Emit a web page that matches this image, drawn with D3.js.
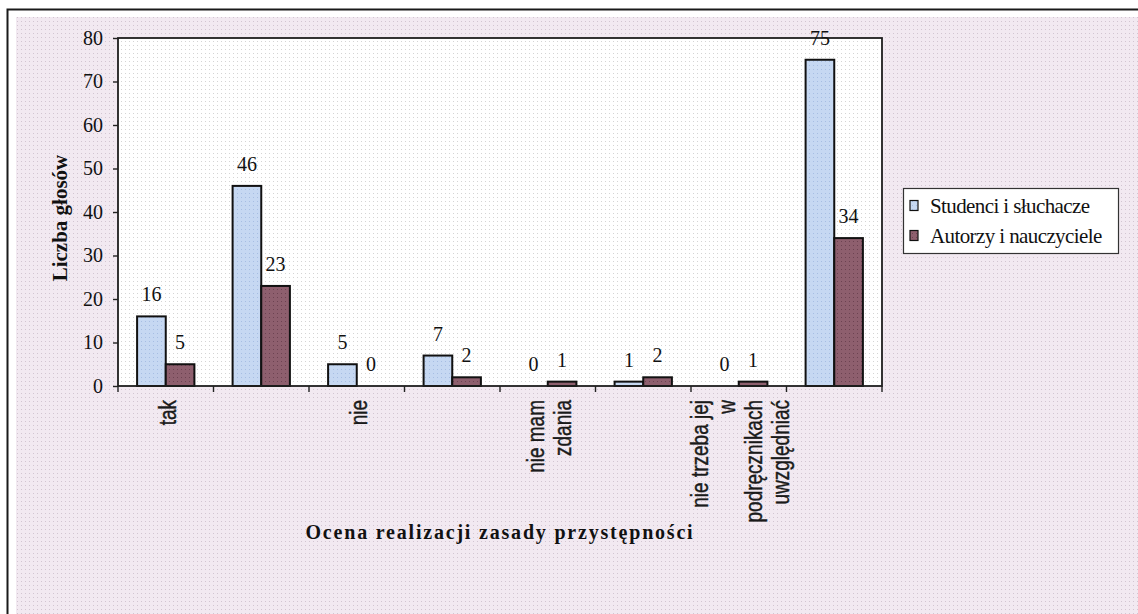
<!DOCTYPE html>
<html>
<head>
<meta charset="utf-8">
<script src="https://cdn.jsdelivr.net/npm/d3@7"></script>
<style>
  html, body { margin: 0; padding: 0; background: #ffffff; }
  svg { display: block; }
</style>
</head>
<body>
<svg id="chart" width="1138" height="614"></svg>
<script>
// ---- data ----
const categoryLabels = [
  ["tak"],
  [],
  ["nie"],
  [],
  ["nie mam", "zdania"],
  [],
  ["nie trzeba jej", "w", "podręcznikach", "uwzględniać"],
  []
];
const seriesNames = ["Studenci i słuchacze", "Autorzy i nauczyciele"];
const studenciValues = [16, 46, 5, 7, 0, 1, 0, 75];
const autorzyValues = [5, 23, 0, 2, 1, 2, 1, 34];
const yTickValues = [0, 10, 20, 30, 40, 50, 60, 70, 80];
const yTitle = "Liczba głosów";
const xTitle = "Ocena realizacji zasady przystępności";

// ---- layout ----
const W = 1138, H = 614;
const plot = { left: 118, top: 38, right: 882, bottom: 386 };
const colors = ["#c6d8f2", "#8e5f6e"];
const dotColors = ["#a6bde2", "#6c4251"];
const serif = "'Liberation Serif', 'Times New Roman', serif";

const svg = d3.select("#chart");
const defs = svg.append("defs");

function dotPattern(id, base, dot) {
  const p = defs.append("pattern").attr("id", id)
    .attr("width", 4).attr("height", 4).attr("patternUnits", "userSpaceOnUse");
  p.append("rect").attr("width", 4).attr("height", 4).attr("fill", base);
  p.append("rect").attr("x", 1).attr("y", 1).attr("width", 1).attr("height", 1).attr("fill", dot);
}
dotPattern("bgDots", "#f2e9f1", "#d2c5d1");
dotPattern("plotDots", "#ffffff", "#d4d4d4");
dotPattern("bar0", colors[0], dotColors[0]);
dotPattern("bar1", colors[1], dotColors[1]);

// background
svg.append("rect").attr("width", W).attr("height", H).attr("fill", "#ffffff");
svg.append("rect").attr("x", 16).attr("y", 17).attr("width", W).attr("height", H)
  .attr("fill", "url(#bgDots)");
svg.append("rect").attr("x", 7.5).attr("y", 9.5).attr("width", W + 20).attr("height", H + 20)
  .attr("fill", "none").attr("stroke", "#1a1a1a").attr("stroke-width", 2);

// scales
const idx = d3.range(studenciValues.length);
const x = d3.scaleBand().domain(idx).range([plot.left, plot.right]).paddingInner(0).paddingOuter(0);
const bw = x.bandwidth();
const xSub = d3.scaleBand().domain([0, 1]).range([0.2 * bw, 0.8 * bw]).padding(0);
const y = d3.scaleLinear().domain([0, 80]).range([plot.bottom, plot.top]);

// plot area
svg.append("rect").attr("x", plot.left).attr("y", plot.top)
  .attr("width", plot.right - plot.left).attr("height", plot.bottom - plot.top)
  .attr("fill", "url(#plotDots)");

// bars
const series = [studenciValues, autorzyValues];
series.forEach((vals, s) => {
  svg.append("g").selectAll("rect").data(vals).join("rect")
    .attr("x", (d, i) => x(i) + xSub(s))
    .attr("y", d => y(d))
    .attr("width", xSub.bandwidth())
    .attr("height", d => y(0) - y(d))
    .attr("fill", `url(#bar${s})`)
    .attr("stroke", "#111")
    .attr("stroke-width", 2);
});

// plot frame
svg.append("rect").attr("x", plot.left).attr("y", plot.top)
  .attr("width", plot.right - plot.left).attr("height", plot.bottom - plot.top)
  .attr("fill", "none").attr("stroke", "#1e1e1e").attr("stroke-width", 1.8);

// y axis
const yAxis = svg.append("g").attr("transform", `translate(${plot.left},0)`)
  .call(d3.axisLeft(y).tickValues(yTickValues).tickSize(5).tickPadding(10));
yAxis.select(".domain").remove();
yAxis.selectAll("line").attr("stroke", "#222").attr("stroke-width", 1.4);
yAxis.selectAll("text")
  .attr("font-family", serif)
  .attr("font-size", 20).attr("fill", "#111");

// x ticks at band boundaries
const boundaries = idx.map(i => x(i)).concat([plot.right]);
svg.append("g").selectAll("line").data(boundaries).join("line")
  .attr("x1", d => d).attr("x2", d => d)
  .attr("y1", plot.bottom).attr("y2", plot.bottom + 6)
  .attr("stroke", "#222").attr("stroke-width", 1.4);

// x category labels (rotated)
const lineGap = 27;
const labG = svg.append("g");
categoryLabels.forEach((lines, i) => {
  if (!lines.length) return;
  const cx = x(i) + bw / 2;
  const n = lines.length;
  lines.forEach((ln, k) => {
    const bx = cx - (n - 1) / 2 * lineGap + k * lineGap + 10;
    labG.append("text")
      .attr("transform", `translate(${bx},${plot.bottom + 14}) rotate(-90) scale(1,1.25)`)
      .attr("text-anchor", "end")
      .attr("font-family", "'Liberation Sans', Arial, sans-serif")
      .attr("font-size", 19)
      .attr("fill", "#1a1a1a")
      .attr("stroke", "#1a1a1a").attr("stroke-width", 0.35)
      .text(ln);
  });
});

// value labels
series.forEach((vals, s) => {
  svg.append("g").selectAll("text").data(vals).join("text")
    .attr("x", (d, i) => x(i) + xSub(s) + xSub.bandwidth() / 2)
    .attr("y", d => y(d) - 15)
    .attr("text-anchor", "middle")
    .attr("font-family", serif)
    .attr("font-size", 20)
    .attr("fill", "#111")
    .text(d => d);
});

// axis titles
svg.append("text")
  .attr("transform", `translate(67,${(plot.top + plot.bottom) / 2 + 6}) rotate(-90)`)
  .attr("text-anchor", "middle")
  .attr("font-family", serif)
  .attr("font-weight", "bold").attr("font-size", 21).attr("fill", "#111")
  .text(yTitle);

svg.append("text")
  .attr("x", (plot.left + plot.right) / 2).attr("y", 539)
  .attr("text-anchor", "middle")
  .attr("font-family", serif)
  .attr("font-weight", "bold").attr("font-size", 20).attr("letter-spacing", 1.8)
  .attr("fill", "#111")
  .text(xTitle);

// legend
const lg = svg.append("g").attr("transform", "translate(903,188)");
lg.append("rect").attr("x", 0.5).attr("y", 0.5).attr("width", 215).attr("height", 65)
  .attr("fill", "#ffffff").attr("stroke", "#333").attr("stroke-width", 1.2);
seriesNames.forEach((name, s) => {
  const ry = 17 + s * 30;
  lg.append("rect").attr("x", 7).attr("y", ry - 4.5).attr("width", 8).attr("height", 10)
    .attr("fill", `url(#bar${s})`).attr("stroke", "#111").attr("stroke-width", 1.2);
  lg.append("text").attr("x", 27).attr("y", ry + 8)
    .attr("font-family", serif)
    .attr("font-size", 21).attr("letter-spacing", -0.6).attr("fill", "#111")
    .text(name);
});
</script>
</body>
</html>
